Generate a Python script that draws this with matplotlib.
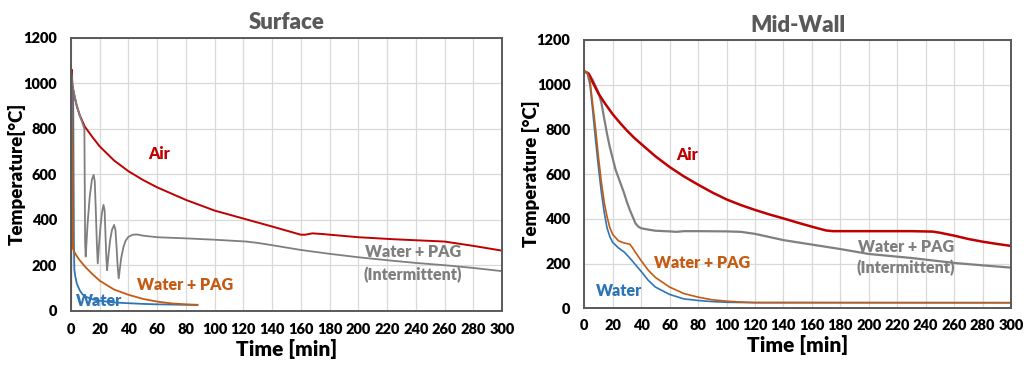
import matplotlib
matplotlib.use("Agg")
import matplotlib.pyplot as plt

plt.rcParams['font.family'] = ['Lato', 'DejaVu Sans']
W = 'heavy'

RED = "#C00000"
ORANGE = "#C55A11"
BLUE = "#2E75B6"
GRAY = "#7F7F7F"

# ---------------- Surface data ----------------
s_air_t = [0, 0.4, 1, 2, 4, 6, 9.5, 15, 20, 30, 40, 50, 60, 80, 100, 120, 140, 160,
           163, 168, 175, 182, 200, 225, 260, 280, 300]
s_air_v = [20, 1060, 990, 955, 900, 860, 810, 762, 722, 660, 613, 575, 542, 487, 440, 405, 370, 334,
           334, 340, 337, 333, 323, 314, 304, 285, 264]

s_water_t = [0, 0.5, 1.5, 2.0, 2.3, 3, 4, 6, 8, 10, 15, 20, 30, 40, 50, 60, 70, 80, 88]
s_water_v = [1060, 1000, 930, 300, 180, 150, 120, 90, 72, 62, 50, 44, 36, 33, 30, 28, 27, 26, 25]

s_pag_t = [0, 0.5, 1.0, 1.3, 2, 4, 6, 8, 10, 15, 20, 25, 30, 40, 50, 60, 70, 80, 88]
s_pag_v = [1060, 960, 700, 275, 262, 240, 222, 207, 192, 160, 132, 112, 93, 70, 52, 40, 32, 28, 26]

s_int_t = [0, 1, 2, 4, 6, 9.3, 9.8, 10.2,
           11.5, 13, 14.5, 15.7, 16.5, 17.3, 18.0, 18.6,
           19.5, 20.5, 21.5, 22.6, 23.4, 24.0, 24.6, 25.1,
           26, 27.2, 28.5, 30, 30.9, 31.7, 32.5, 33.2,
           34, 35, 36.5, 38, 40, 43, 46, 50, 60, 80, 100, 122, 130, 140, 160, 180,
           200, 220, 240, 260, 280, 300]
s_int_v = [1060, 990, 955, 900, 860, 800, 300, 238,
           380, 500, 575, 597, 570, 430, 290, 208,
           290, 370, 430, 465, 440, 330, 230, 178,
           240, 310, 355, 377, 355, 280, 190, 142,
           185, 235, 280, 308, 325, 334, 335, 330, 323, 318, 312, 304, 298, 288, 267, 250,
           235, 222, 210, 200, 188, 174]

# ---------------- Mid-wall data ----------------
m_air_t = [0, 3, 6, 10, 15, 20, 25, 30, 35, 40, 50, 60, 70, 80, 90, 100, 110, 120, 130, 140,
           150, 160, 170, 175, 200, 230, 245, 250, 260, 270, 280, 290, 300]
m_air_v = [1060, 1050, 1010, 960, 912, 868, 830, 795, 763, 735, 680, 632, 590, 553, 518, 487,
           462, 440, 420, 402, 383, 365, 348, 345, 345, 345, 343, 338, 325, 310, 298, 288, 279]

m_water_t = [0, 2, 4, 6, 8, 10, 12, 14, 16, 18, 20, 24, 28, 32, 36, 40, 45, 50, 60, 70, 80,
             90, 100, 120, 300]
m_water_v = [1060, 1055, 1000, 880, 750, 630, 520, 430, 360, 320, 295, 270, 252, 225, 195, 165,
             125, 95, 62, 42, 35, 30, 27, 25, 25]

m_pag_t = [0, 2, 4, 6, 8, 10, 12, 14, 16, 18, 20, 24, 28, 32, 34, 36, 40, 45, 50, 60, 70, 80,
           90, 100, 110, 120, 300]
m_pag_v = [1060, 1055, 1020, 910, 800, 675, 565, 475, 410, 360, 330, 302, 292, 287, 270, 250,
           213, 170, 138, 95, 66, 50, 38, 32, 28, 26, 25]

m_int_t = [0, 3, 6, 10, 12, 14, 16, 18, 20, 22, 24, 26, 28, 30, 32, 34, 36, 38, 40, 45, 50, 60,
           65, 70, 80, 100, 110, 120, 140, 160, 180, 200, 230, 260, 280, 300]
m_int_v = [1060, 1050, 1020, 965, 920, 850, 780, 720, 670, 620, 585, 550, 515, 475, 440, 410,
           380, 365, 358, 352, 347, 344, 342, 345, 345, 344, 342, 333, 305, 285, 265, 243, 225,
           203, 192, 182]

x_ticks = list(range(0, 301, 20))
y_ticks = list(range(0, 1201, 200))

fig = plt.figure(figsize=(10.31, 3.71), dpi=100)
ax1 = fig.add_axes([0.0689, 0.1625, 0.418, 0.7359])
ax2 = fig.add_axes([0.5667, 0.169, 0.4139, 0.7232])


def style(ax, title, ylabel, xpad):
    ax.set_xlim(0, 300)
    ax.set_ylim(0, 1200)
    ax.set_xticks(x_ticks)
    ax.set_yticks(y_ticks)
    ax.grid(True, color="#D9D9D9", linewidth=0.9)
    ax.set_axisbelow(True)
    for sp in ax.spines.values():
        sp.set_color("#595959")
        sp.set_linewidth(1.4)
    ax.tick_params(axis='both', length=0, labelsize=10.5, colors="black")
    ax.tick_params(axis='x', pad=xpad)
    ax.tick_params(axis='y', pad=10)
    for lab in ax.get_xticklabels() + ax.get_yticklabels():
        lab.set_fontweight(W)
    ax.set_title(title, fontsize=16, fontweight=W, color="#595959", pad=6)
    ax.set_xlabel("Time [min]", fontsize=15, fontweight=W, labelpad=2)
    ax.set_ylabel(ylabel, fontsize=13.5, fontweight=W, labelpad=4)


style(ax1, "Surface", "Temperature[°C]", 9)
style(ax2, "Mid-Wall", "Temperature [°C]", 8)
ax1.yaxis.set_label_coords(-0.105, 0.5)
ax2.yaxis.set_label_coords(-0.104, 0.5)

ax1.plot(s_air_t, s_air_v, color=RED, lw=1.4)
ax1.plot(s_int_t, s_int_v, color=GRAY, lw=1.3)
ax1.plot(s_water_t, s_water_v, color=BLUE, lw=1.3)
ax1.plot(s_pag_t, s_pag_v, color=ORANGE, lw=1.3)

ax2.plot(m_int_t, m_int_v, color=GRAY, lw=1.6)
ax2.plot(m_air_t, m_air_v, color=RED, lw=1.8)
ax2.plot(m_water_t, m_water_v, color=BLUE, lw=1.2)
ax2.plot(m_pag_t, m_pag_v, color=ORANGE, lw=1.2)

lab_fs = 11.5
kw = dict(ha='center', va='center', fontsize=lab_fs, fontweight=W)
ax1.text(61.2, 690, "Air", color=RED, **kw)
ax1.text(79.3, 113, "Water + PAG", color=ORANGE, **kw)
ax1.text(19.5, 41, "Water", color=BLUE, **kw)
ax1.text(238, 258, "Water + PAG", color=GRAY, **kw)
ax1.text(238, 157, "(Intermittent)", color=GRAY, **kw)

ax2.text(72.2, 686, "Air", color=RED, **kw)
ax2.text(83.1, 203, "Water + PAG", color=ORANGE, **kw)
ax2.text(24.4, 77, "Water", color=BLUE, **kw)
ax2.text(226.2, 275, "Water + PAG", color=GRAY, **kw)
ax2.text(226.2, 182, "(Intermittent)", color=GRAY, **kw)

fig.savefig("out.png", dpi=100)
